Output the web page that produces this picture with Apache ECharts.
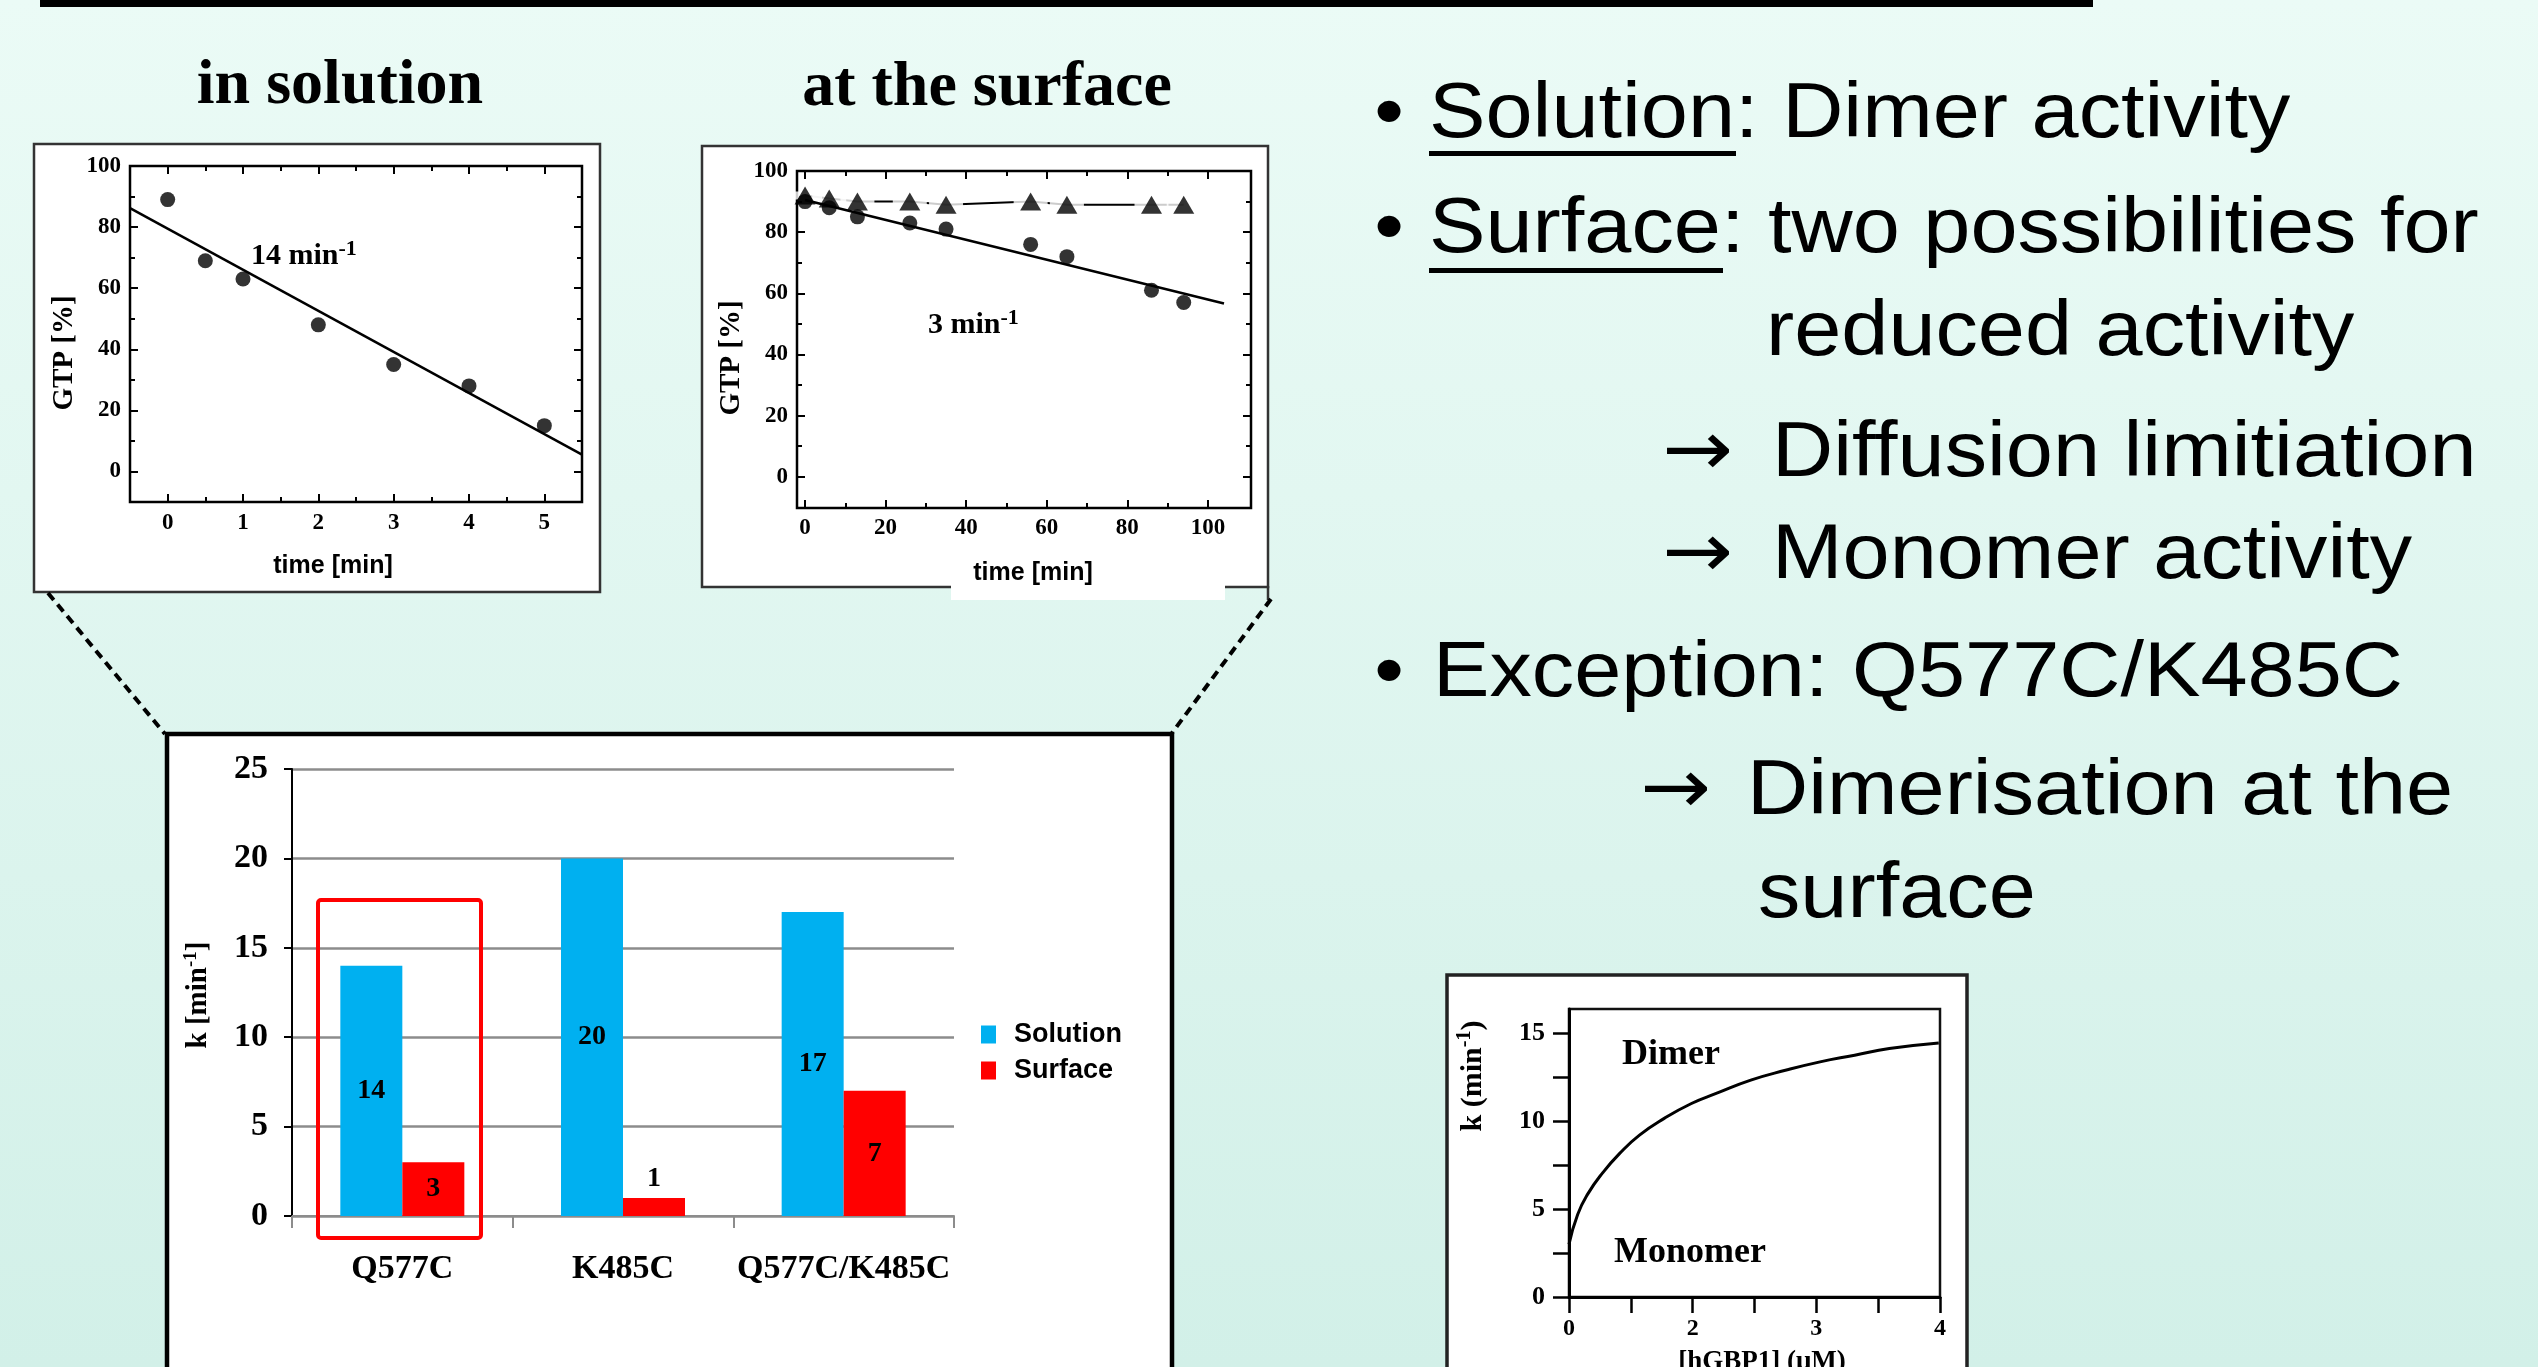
<!DOCTYPE html>
<html>
<head>
<meta charset="utf-8">
<script src="https://cdn.jsdelivr.net/npm/echarts@6/dist/echarts.min.js"></script>
<style>
  html, body { margin: 0; padding: 0; overflow: hidden; }
  #c { width: 2538px; height: 1367px; }
</style>
</head>
<body>
<div id="c"></div>
<script>
// ---- GTP hydrolysis in solution ----
const solTime = [0, 0.5, 1, 2, 3, 4, 5];
const solGTP = [89, 69, 63, 48, 35, 28, 15];
const solFitTime = [-0.5, 5.5];
const solFitGTP = [86.2, 5.5];
const solTimeTicks = [0, 1, 2, 3, 4, 5];
const solTimeMinor = [0.5, 1.5, 2.5, 3.5, 4.5];

// ---- GTP hydrolysis at the surface ----
const surfTime = [0, 6, 13, 26, 35, 56, 65, 86, 94];
const surfGTP = [90, 88, 85, 83, 81, 76, 72, 61, 57];
const ctrlGTP = [92, 91, 90, 90, 89, 90, 89, 89, 89];
const surfFitTime = [0, 104];
const surfFitGTP = [90.5, 56.7];
const surfTimeTicks = [0, 20, 40, 60, 80, 100];
const surfTimeMinor = [10, 30, 50, 70, 90];

const gtpTicks = [0, 20, 40, 60, 80, 100];
const gtpMinor = [10, 30, 50, 70, 90];

// ---- rate constants k [min^-1] ----
const mutants = ['Q577C', 'K485C', 'Q577C/K485C'];
const kSolution = [14, 20, 17];
const kSurface = [3, 1, 7];

// ---- k versus protein concentration ----
const concTickLabels = ['0', '2', '3', '4'];
const concTickPos = [0, 1, 2, 3];
const concMinorPos = [0.5, 1.5, 2.5];
const concAxisPos = [0, 0.07, 0.155, 0.27, 0.41, 0.57, 0.77, 0.99, 1.19, 1.47, 1.75, 2.03, 2.31, 2.59, 2.99];
const kConc = [3.0, 4.7, 5.9, 7.05, 8.18, 9.22, 10.17, 11.02, 11.59, 12.35, 12.91, 13.39, 13.77, 14.15, 14.47];
const kConcTicks = [0, 5, 10, 15];
const kConcMinor = [2.5, 7.5, 12.5];

const SERIF = "'Liberation Serif','Times New Roman',serif";
const SANS = "'Liberation Sans',Arial,sans-serif";
const ARROW_FONT = "'DejaVu Sans',sans-serif";
const zip = (xs, ys) => xs.map((x, i) => [x, ys[i]]);

// Origin-style frame axis: inward ticks, optional labels
function frameAxis(grid, pos, min, max, ticks, len, labels, labelOpt) {
  return {
    type: 'value', gridIndex: grid, position: pos, min: min, max: max,
    axisLine: { show: false, onZero: false },
    splitLine: { show: false },
    axisTick: { show: true, inside: true, length: len, customValues: ticks,
                lineStyle: { color: '#000', width: 2 } },
    axisLabel: labels
      ? Object.assign({ show: true, customValues: labels, fontFamily: SERIF,
                        fontWeight: 'bold', fontSize: 23, color: '#000' }, labelOpt || {})
      : { show: false }
  };
}

function text(x, y, str, size, family, extra) {
  const el = {
    type: 'text', x: x, y: y, z: 20,
    style: Object.assign({
      text: str, fontSize: size, fontFamily: family, fontWeight: 'bold', fill: '#000',
      textAlign: 'left', align: 'left', textVerticalAlign: 'middle', verticalAlign: 'middle'
    }, (extra && extra.style) || {})
  };
  if (extra) {
    for (const k in extra) if (k !== 'style') el[k] = extra[k];
  }
  return el;
}

function supRich(size, supSize, family) {
  return {
    n: { fontSize: size, fontFamily: family, fontWeight: 'bold', fill: '#000', lineHeight: size + 6 },
    s: { fontSize: supSize, fontFamily: family, fontWeight: 'bold', fill: '#000', verticalAlign: 'top' }
  };
}

const grids = [
  { left: 130, top: 166, width: 452, height: 336, show: true, borderColor: '#000', borderWidth: 2.5, backgroundColor: 'transparent' },
  { left: 797, top: 171, width: 454, height: 337, show: true, borderColor: '#000', borderWidth: 2.5, backgroundColor: 'transparent' },
  { left: 292, top: 769, width: 662, height: 447 },
  { left: 1569, top: 1009, width: 371, height: 288, show: true, borderColor: '#111', borderWidth: 2.5, backgroundColor: 'transparent' }
];

const xAxes = [
  frameAxis(0, 'bottom', -0.5, 5.5, solTimeTicks, 8, solTimeTicks, { margin: 10 }),
  frameAxis(0, 'bottom', -0.5, 5.5, solTimeMinor, 5, null),
  frameAxis(0, 'top', -0.5, 5.5, solTimeTicks, 8, null),
  frameAxis(0, 'top', -0.5, 5.5, solTimeMinor, 5, null),
  frameAxis(1, 'bottom', -2, 110.7, surfTimeTicks, 8, surfTimeTicks, { margin: 9 }),
  frameAxis(1, 'bottom', -2, 110.7, surfTimeMinor, 5, null),
  frameAxis(1, 'top', -2, 110.7, surfTimeTicks, 8, null),
  frameAxis(1, 'top', -2, 110.7, surfTimeMinor, 5, null),
  {
    type: 'category', gridIndex: 2, data: mutants,
    axisLine: { show: true, lineStyle: { color: '#8c8c8c', width: 2 } },
    axisTick: { show: true, length: 12, lineStyle: { color: '#8c8c8c', width: 2 } },
    axisLabel: { interval: 0, fontFamily: SERIF, fontWeight: 'bold', fontSize: 34, color: '#000', margin: 36 }
  },
  {
    type: 'value', gridIndex: 3, position: 'bottom', min: 0, max: 3,
    axisLine: { show: true, onZero: false, lineStyle: { color: '#000', width: 3 } },
    splitLine: { show: false },
    axisTick: { show: true, inside: false, length: 16, customValues: concTickPos.concat(concMinorPos),
                lineStyle: { color: '#000', width: 2.5 } },
    axisLabel: { show: true, customValues: concTickPos, margin: 20,
                 formatter: v => concTickLabels[concTickPos.indexOf(v)],
                 fontFamily: SERIF, fontWeight: 'bold', fontSize: 24, color: '#000' }
  }
];

const yAxes = [
  frameAxis(0, 'left', -10, 100, gtpTicks, 8, gtpTicks, { margin: 9 }),
  frameAxis(0, 'left', -10, 100, gtpMinor, 5, null),
  frameAxis(0, 'right', -10, 100, gtpTicks, 8, null),
  frameAxis(0, 'right', -10, 100, gtpMinor, 5, null),
  frameAxis(1, 'left', -10.2, 100, gtpTicks, 8, gtpTicks, { margin: 9 }),
  frameAxis(1, 'left', -10.2, 100, gtpMinor, 5, null),
  frameAxis(1, 'right', -10.2, 100, gtpTicks, 8, null),
  frameAxis(1, 'right', -10.2, 100, gtpMinor, 5, null),
  {
    type: 'value', gridIndex: 2, min: 0, max: 25, interval: 5,
    axisLine: { show: true, lineStyle: { color: '#000', width: 2 } },
    axisTick: { show: true, length: 8, lineStyle: { color: '#000', width: 2 } },
    axisLabel: { fontFamily: SERIF, fontWeight: 'bold', fontSize: 34, color: '#000', margin: 24 },
    splitLine: { show: true, lineStyle: { color: '#8c8c8c', width: 2.5 } }
  },
  {
    type: 'value', gridIndex: 3, position: 'left', min: 0, max: 16.4,
    axisLine: { show: true, onZero: false, lineStyle: { color: '#000', width: 3 } },
    splitLine: { show: false },
    axisTick: { show: true, inside: false, length: 16, customValues: kConcTicks.concat(kConcMinor),
                lineStyle: { color: '#000', width: 2.5 } },
    axisLabel: { show: true, customValues: kConcTicks, margin: 24,
                 fontFamily: SERIF, fontWeight: 'bold', fontSize: 26, color: '#000' }
  }
];

const barLabel = { show: true, fontFamily: SERIF, fontWeight: 'bold', fontSize: 28, color: '#000' };
const withLabelPos = v => ({ value: v, label: { position: v < 2 ? 'top' : 'inside' } });

const series = [
  // in solution
  { type: 'line', xAxisIndex: 0, yAxisIndex: 0, data: zip(solFitTime, solFitGTP),
    symbol: 'none', lineStyle: { color: '#000', width: 2.5 }, z: 4 },
  { type: 'scatter', xAxisIndex: 0, yAxisIndex: 0, data: zip(solTime, solGTP),
    symbol: 'circle', symbolSize: 15, itemStyle: { color: '#000' }, z: 5 },
  // at the surface
  { type: 'line', xAxisIndex: 4, yAxisIndex: 4, data: zip(surfTime, ctrlGTP),
    symbol: 'none', lineStyle: { color: '#000', width: 2 }, z: 2 },
  { type: 'scatter', xAxisIndex: 4, yAxisIndex: 4, data: zip(surfTime, ctrlGTP), silent: true,
    symbol: 'rect', symbolSize: [34, 8], itemStyle: { color: '#fff' }, z: 3 },
  { type: 'line', xAxisIndex: 4, yAxisIndex: 4, data: zip(surfFitTime, surfFitGTP),
    symbol: 'none', lineStyle: { color: '#000', width: 2.5 }, z: 4 },
  { type: 'scatter', xAxisIndex: 4, yAxisIndex: 4, data: zip(surfTime, surfGTP),
    symbol: 'circle', symbolSize: 15, itemStyle: { color: '#000' }, z: 5 },
  { type: 'scatter', xAxisIndex: 4, yAxisIndex: 4, data: zip(surfTime, ctrlGTP),
    symbol: 'triangle', symbolSize: [21, 18], itemStyle: { color: '#000' }, z: 6 },
  // rate constants
  { name: 'Solution', type: 'bar', xAxisIndex: 8, yAxisIndex: 8, data: kSolution.map(withLabelPos),
    barWidth: 62, barGap: '0%', itemStyle: { color: '#00b0f0' }, label: barLabel },
  { name: 'Surface', type: 'bar', xAxisIndex: 8, yAxisIndex: 8, data: kSurface.map(withLabelPos),
    barWidth: 62, barGap: '0%', itemStyle: { color: '#ff0000' }, label: barLabel },
  // concentration dependence
  { type: 'line', xAxisIndex: 9, yAxisIndex: 9, data: zip(concAxisPos, kConc), smooth: true,
    symbol: 'none', lineStyle: { color: '#000', width: 3 }, z: 4 }
];

// slide decoration, panel boxes and texts
const body = (x, y, str, align, family) => text(x, y, str, 77, family || SANS, {
  scaleX: 1.1,
  style: Object.assign({ fontWeight: 'normal' }, align ? { textAlign: align, align: align } : {})
});

const elements = [
  { type: 'rect', z: -10, shape: { x: 0, y: 0, width: 2538, height: 1367 },
    style: { fill: { type: 'linear', x: 0, y: 0, x2: 0, y2: 1,
      colorStops: [{ offset: 0, color: '#ebfbf6' }, { offset: 1, color: '#d2f0e8' }] } } },
  { type: 'rect', z: -5, shape: { x: 40, y: 0, width: 2053, height: 7 }, style: { fill: '#000' } },

  // panel boxes
  { type: 'rect', z: -5, shape: { x: 34, y: 144, width: 566, height: 448 },
    style: { fill: '#fff', stroke: '#333', lineWidth: 2.5 } },
  { type: 'rect', z: -5, shape: { x: 702, y: 146, width: 566, height: 441 },
    style: { fill: '#fff', stroke: '#333', lineWidth: 2.5 } },
  { type: 'rect', z: -4, shape: { x: 951, y: 585, width: 274, height: 15 }, style: { fill: '#fff' } },
  { type: 'line', z: -4, shape: { x1: 1268, y1: 586, x2: 1268, y2: 600 }, style: { stroke: '#333', lineWidth: 2.5 } },
  { type: 'rect', z: -5, shape: { x: 167, y: 734, width: 1005, height: 700 },
    style: { fill: '#fff', stroke: '#000', lineWidth: 4.5 } },
  { type: 'rect', z: -5, shape: { x: 1447, y: 975, width: 520, height: 500 },
    style: { fill: '#fff', stroke: '#222', lineWidth: 3.5 } },

  // zoom connectors
  { type: 'line', z: -4, shape: { x1: 48, y1: 593, x2: 165, y2: 734 },
    style: { stroke: '#000', lineWidth: 4, lineDash: [9, 6] } },
  { type: 'line', z: -4, shape: { x1: 1271, y1: 599, x2: 1172, y2: 733 },
    style: { stroke: '#000', lineWidth: 4, lineDash: [9, 6] } },

  // panel headings
  text(340, 86, 'in solution', 64, SERIF, { style: { textAlign: 'center', align: 'center' } }),
  text(987, 88, 'at the surface', 64, SERIF, { style: { textAlign: 'center', align: 'center' } }),

  // axis titles
  text(65, 353, 'GTP [%]', 29, SERIF, { rotation: Math.PI / 2, style: { textAlign: 'center', align: 'center' } }),
  text(333, 566, 'time [min]', 25, SANS, { style: { textAlign: 'center', align: 'center' } }),
  text(732, 358, 'GTP [%]', 29, SERIF, { rotation: Math.PI / 2, style: { textAlign: 'center', align: 'center' } }),
  text(1033, 573, 'time [min]', 25, SANS, { style: { textAlign: 'center', align: 'center' } }),
  text(199, 995, '', 29, SERIF, { rotation: Math.PI / 2,
    style: { text: '{n|k [min}{s|-1}{n|]}', rich: supRich(29, 19, SERIF), textAlign: 'center', align: 'center' } }),
  text(1473, 1076, '', 30, SERIF, { rotation: Math.PI / 2,
    style: { text: '{n|k (min}{s|-1}{n|)}', rich: supRich(30, 20, SERIF), textAlign: 'center', align: 'center' } }),
  text(1762, 1362, '[hGBP1] (μM)', 27, SERIF, { style: { textAlign: 'center', align: 'center' } }),

  // rate annotations
  text(251, 256, '', 30, SERIF, { style: { text: '{n|14 min}{s|-1}', rich: supRich(30, 22, SERIF) } }),
  text(928, 325, '', 30, SERIF, { style: { text: '{n|3 min}{s|-1}', rich: supRich(30, 22, SERIF) } }),
  text(1622, 1055, 'Dimer', 36, SERIF),
  text(1614, 1253, 'Monomer', 36, SERIF),

  // highlighted mutant
  { type: 'rect', z: 15, shape: { x: 318, y: 900, width: 163, height: 338, r: 3 },
    style: { fill: 'none', stroke: '#ff0000', lineWidth: 4 } },

  // bullet points
  body(1389, 116, '•', 'center'),
  body(1429, 116, 'Solution: Dimer activity'),
  { type: 'rect', z: 20, shape: { x: 1429, y: 151, width: 307, height: 5 }, style: { fill: '#000' } },
  body(1389, 231, '•', 'center'),
  body(1429, 231, 'Surface: two possibilities for'),
  { type: 'rect', z: 20, shape: { x: 1429, y: 268, width: 294, height: 5 }, style: { fill: '#000' } },
  body(1766, 334, 'reduced activity'),
  body(1662, 455, '→', null, ARROW_FONT),
  body(1772, 455, 'Diffusion limitiation'),
  body(1662, 557, '→', null, ARROW_FONT),
  body(1772, 557, 'Monomer activity'),
  body(1389, 675, '•', 'center'),
  body(1433, 675, 'Exception: Q577C/K485C'),
  body(1640, 793, '→', null, ARROW_FONT),
  body(1747, 793, 'Dimerisation at the'),
  body(1758, 896, 'surface')
];

const chart = echarts.init(document.getElementById('c'), null, { renderer: 'canvas', width: 2538, height: 1367 });
chart.setOption({
  animation: false,
  backgroundColor: 'transparent',
  grid: grids,
  xAxis: xAxes,
  yAxis: yAxes,
  legend: {
    data: ['Solution', 'Surface'],
    orient: 'vertical', left: 976, top: 1016,
    itemWidth: 15, itemHeight: 18, itemGap: 9, icon: 'rect',
    selectedMode: false,
    textStyle: { fontFamily: SANS, fontWeight: 'bold', fontSize: 27, color: '#000',
                 lineHeight: 27, padding: [0, 0, 0, 13] }
  },
  series: series,
  graphic: { elements: elements }
});
</script>
</body>
</html>
